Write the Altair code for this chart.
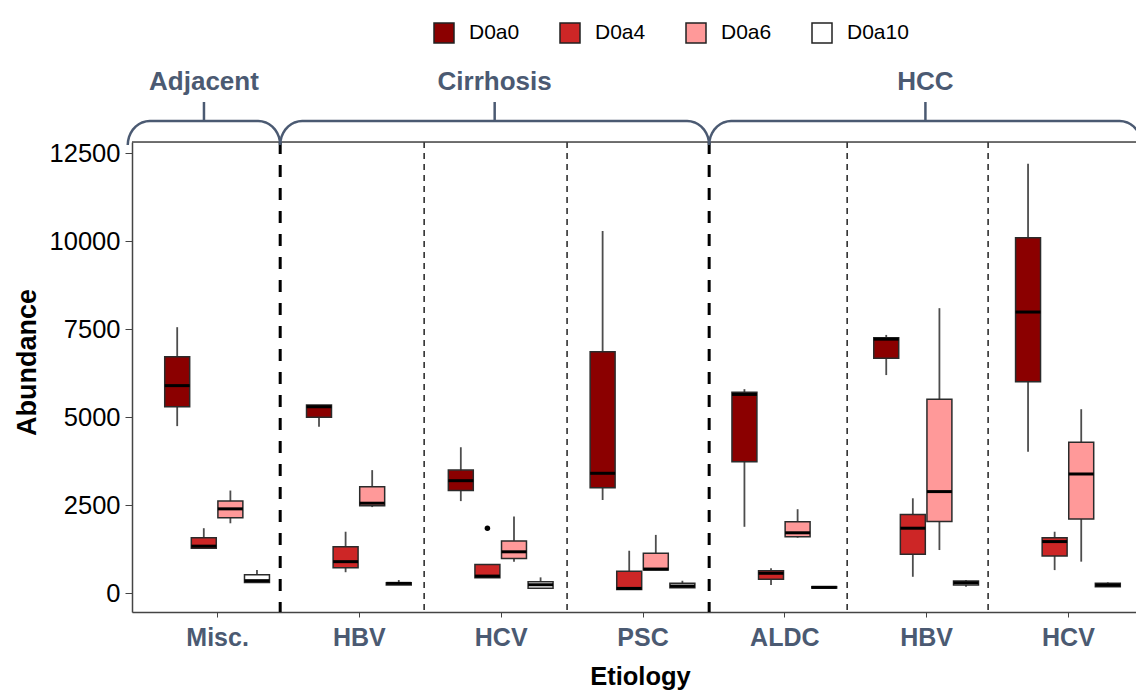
import altair as alt
import numpy as np
import pandas as pd

# ---------------- data ----------------
categories = ["Misc.", "HBV", "HCV", "PSC", "ALDC", "HBV", "HCV"]
series = ["D0a0", "D0a4", "D0a6", "D0a10"]
series_colors = ["#8B0000", "#CD2626", "#FF9999", "#FFFFFF"]

whisker_low = {
    "D0a0": [4750, 4730, 2620, 2650, 1890, 6200, 4020],
    "D0a4": [1280, 600, 440, 110, 240, 470, 660],
    "D0a6": [1990, 2450, 900, 660, 1580, 1230, 900],
    "D0a10": [310, 236, 142, 159, 150, 188, 188],
}
quart1 = {
    "D0a0": [5300, 5000, 2920, 3000, 3740, 6680, 6010],
    "D0a4": [1280, 730, 440, 110, 400, 1110, 1060],
    "D0a6": [2150, 2490, 990, 660, 1610, 2040, 2110],
    "D0a10": [310, 240, 142, 159, 150, 236, 188],
}
median = {
    "D0a0": [5900, 5300, 3200, 3410, 5650, 7220, 7990],
    "D0a4": [1340, 900, 490, 140, 570, 1850, 1470],
    "D0a6": [2400, 2560, 1180, 690, 1720, 2890, 3390],
    "D0a10": [360, 284, 244, 207, 170, 301, 236],
}
quart3 = {
    "D0a0": [6720, 5350, 3500, 6860, 5710, 7260, 10100],
    "D0a4": [1580, 1320, 820, 630, 640, 2240, 1580],
    "D0a6": [2620, 3030, 1490, 1140, 2030, 5510, 4290],
    "D0a10": [530, 300, 330, 284, 190, 349, 284],
}
whisker_high = {
    "D0a0": [7560, 5350, 4150, 10290, 5800, 7340, 12200],
    "D0a4": [1850, 1750, 820, 1210, 710, 2700, 1750],
    "D0a6": [2920, 3500, 2180, 1660, 2390, 8100, 5230],
    "D0a10": [660, 378, 454, 358, 200, 378, 312],
}
outlier_category = [3]
outlier_series = ["D0a4"]
outlier_value = [1850]

group_names = ["Adjacent", "Cirrhosis", "HCC"]
group_start = [0.37, 1.445, 4.47]
group_end = [1.445, 4.47, 7.52]

thick_dividers = [1.445, 4.47]
thin_dividers = [2.46, 3.468, 5.443, 6.437]

y_ticks = [0, 2500, 5000, 7500, 10000, 12500]

# ---------------- layout / style ----------------
W, H = 1004, 470
X_DOMAIN = [0.4, 7.48]
Y_DOMAIN = [-530, 12820]
SLATE = "#4B5A72"
FONT = "Liberation Sans"
dodge = {"D0a0": -0.28125, "D0a4": -0.09375, "D0a6": 0.09375, "D0a10": 0.28125}
half_w = 0.088

rows = []
for s in series:
    for i in range(len(categories)):
        p = i + 1 + dodge[s]
        rows.append(dict(series=s, pos=p, left=p - half_w, right=p + half_w,
                         lo=whisker_low[s][i], q1=quart1[s][i], med=median[s][i],
                         q3=quart3[s][i], hi=whisker_high[s][i]))
df = pd.DataFrame(rows)

out_df = pd.DataFrame({
    "pos": [c + dodge[s] for c, s in zip(outlier_category, outlier_series)],
    "val": outlier_value,
})

# brace geometry (pixel offsets converted to data units)
py = (Y_DOMAIN[1] - Y_DOMAIN[0]) / H          # data units per pixel (y)
px = (X_DOMAIN[1] - X_DOMAIN[0]) / W          # data units per pixel (x)
v_end = Y_DOMAIN[1] - 3 * py                  # brace tips, near the panel top
v_line = Y_DOMAIN[1] + 21 * py                # horizontal part
v_stem = Y_DOMAIN[1] + 40 * py                # stem top
v_text = Y_DOMAIN[1] + 60 * py                # group labels
rx = 22 * px
t = np.linspace(0, np.pi / 2, 10)
brace_rows = []
for g, a, b in zip(group_names, group_start, group_end):
    xs = list(a + rx * (1 - np.cos(t))) + list((b - rx * (1 - np.cos(t)))[::-1])
    vs = list(v_end + (v_line - v_end) * np.sin(t)) + list((v_end + (v_line - v_end) * np.sin(t))[::-1])
    for k, (xx, vv) in enumerate(zip(xs, vs)):
        brace_rows.append(dict(group=g, i=k, bx=xx, by=vv))
brace_df = pd.DataFrame(brace_rows)
label_df = pd.DataFrame({
    "group": group_names,
    "mid": [(a + b) / 2 for a, b in zip(group_start, group_end)],
    "line": v_line, "stem": v_stem, "ty": v_text,
})

x_scale = alt.Scale(domain=X_DOMAIN, nice=False, zero=False)
y_scale = alt.Scale(domain=Y_DOMAIN, nice=False, zero=False)

label_list = "[''," + ",".join("'%s'" % c for c in categories) + "]"
x_axis = alt.Axis(values=list(range(1, len(categories) + 1)), labelExpr=label_list + "[datum.value]",
                  grid=False, tickSize=5, tickColor="#444", domainColor="#444", domainWidth=1.5,
                  labelFontSize=25, labelFontWeight="bold", labelColor=SLATE, labelPadding=8,
                  titleFontSize=25.5, titleFontWeight="bold", titleColor="black", titlePadding=14,
                  titleX=508, titleAnchor="start", titleAlign="center",
                  labelFont=FONT, titleFont=FONT)
y_axis = alt.Axis(values=y_ticks, format="d", grid=False, tickSize=7, tickColor="#444",
                  domainColor="#444", domainWidth=1.5, labelFontSize=25.5, labelColor="black",
                  labelPadding=5, titleFontSize=27, titleFontWeight="bold", titleColor="black",
                  titlePadding=8, titleY=220, titleAnchor="start", titleAlign="center",
                  labelFont=FONT, titleFont=FONT)

base = alt.Chart(df)

whiskers = base.mark_rule(color="#4d4d4d", strokeWidth=1.8).encode(
    x=alt.X("pos:Q", scale=x_scale, axis=x_axis, title="Etiology"),
    y=alt.Y("lo:Q", scale=y_scale, axis=y_axis, title="Abundance"),
    y2="hi:Q",
)
boxes = base.mark_rect(stroke="#2b2b2b", strokeWidth=1.5).encode(
    x=alt.X("left:Q", scale=x_scale, title="Etiology"),
    x2="right:Q",
    y=alt.Y("q1:Q", scale=y_scale, title="Abundance"),
    y2="q3:Q",
    fill=alt.Fill("series:N", scale=alt.Scale(domain=series, range=series_colors),
                  sort=series,
                  legend=alt.Legend(orient="none", legendX=301, legendY=-120, direction="horizontal",
                                    title=None, symbolType="square", symbolSize=400,
                                    symbolStrokeColor="#222", symbolStrokeWidth=1.5,
                                    symbolOpacity=1, labelFontSize=21, labelFont=FONT,
                                    labelColor="black", labelOffset=14, columnPadding=37)),
)
medians = base.mark_rule(color="black", strokeWidth=3).encode(
    x=alt.X("left:Q", scale=x_scale, title="Etiology"), x2="right:Q",
    y=alt.Y("med:Q", scale=y_scale, title="Abundance"),
)
outliers = alt.Chart(out_df).mark_circle(color="black", size=30, opacity=1).encode(
    x=alt.X("pos:Q", scale=x_scale, title="Etiology"),
    y=alt.Y("val:Q", scale=y_scale, title="Abundance"),
)

div_thick = alt.Chart(pd.DataFrame({"d": thick_dividers})).mark_rule(
    color="black", strokeWidth=3, strokeDash=[12, 11]).encode(
    x=alt.X("d:Q", scale=x_scale, title="Etiology"), y=alt.value(0), y2=alt.value(H))
div_thin = alt.Chart(pd.DataFrame({"d": thin_dividers})).mark_rule(
    color="black", strokeWidth=1.3, strokeDash=[6, 5]).encode(
    x=alt.X("d:Q", scale=x_scale, title="Etiology"), y=alt.value(0), y2=alt.value(H))

top_border = alt.Chart(pd.DataFrame({"a": [0]})).mark_rule(color="#444", strokeWidth=1.5).encode(
    x=alt.value(0), x2=alt.value(W), y=alt.value(0))

braces = alt.Chart(brace_df).mark_line(color=SLATE, strokeWidth=2.5).encode(
    x=alt.X("bx:Q", scale=x_scale, title="Etiology"),
    y=alt.Y("by:Q", scale=y_scale, title="Abundance"),
    detail="group:N", order="i:Q")
stems = alt.Chart(label_df).mark_rule(color=SLATE, strokeWidth=2.5).encode(
    x=alt.X("mid:Q", scale=x_scale, title="Etiology"),
    y=alt.Y("line:Q", scale=y_scale, title="Abundance"), y2="stem:Q")
glabels = alt.Chart(label_df).mark_text(font=FONT, fontSize=26, fontWeight="bold", color=SLATE,
                                        baseline="middle", align="center").encode(
    x=alt.X("mid:Q", scale=x_scale, title="Etiology"),
    y=alt.Y("ty:Q", scale=y_scale, title="Abundance"), text="group:N")

chart = alt.layer(
    div_thin, div_thick, whiskers, boxes, medians, outliers, top_border, braces, stems, glabels
).properties(
    width=W, height=H, autosize="none",
    padding={"left": 124, "top": 134, "right": 0, "bottom": 80},
).configure_view(stroke=None).configure(font=FONT, background="white")

chart.save("out.html", embed_options={"renderer": "svg", "actions": False})
